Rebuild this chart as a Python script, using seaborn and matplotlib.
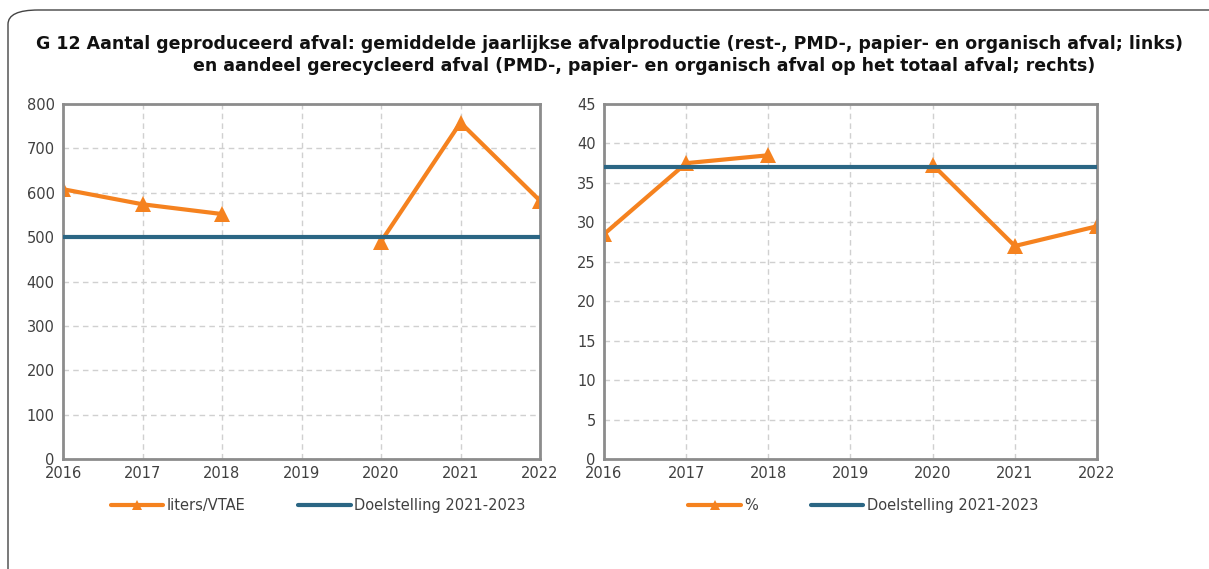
import numpy as np
import pandas as pd
import seaborn as sns
from matplotlib import pyplot as plt
from matplotlib.lines import Line2D
from matplotlib.patches import FancyBboxPatch

years = [2016, 2017, 2018, 2019, 2020, 2021, 2022]
liters = [608, 574, 552, np.nan, 490, 758, 582]
recycled = [28.5, 37.5, 38.5, np.nan, 37.3, 27.0, 29.5]
target_liters = 500
target_pct = 37
segment = [0, 0, 0, 1, 1, 1, 1]

ORANGE = "#f5821f"
BLUE = "#2b6684"
TXT = "#404040"

sns.set_theme(style="whitegrid")
plt.rcParams["font.family"] = ["DejaVu Sans"]

fig = plt.figure(figsize=(12.09, 5.69), dpi=100)

# rounded frame around the whole figure
frame = FancyBboxPatch((8 / 1209, -0.05), 1.05, 1 - 10 / 569 + 0.05,
                       boxstyle="round,pad=0,rounding_size=0.025",
                       transform=fig.transFigure, fill=False, edgecolor="#444444", linewidth=1.0)
fig.patches.append(frame)

fig.text(36 / 1209, 1 - 44 / 569,
         "G 12 Aantal geproduceerd afval: gemiddelde jaarlijkse afvalproductie (rest-, PMD-, papier- en organisch afval; links)",
         ha="left", va="center", fontsize=12.5, fontweight="bold", color="#111111")
fig.text(193 / 1209, 1 - 66 / 569,
         "en aandeel gerecycleerd afval (PMD-, papier- en organisch afval op het totaal afval; rechts)",
         ha="left", va="center", fontsize=12.5, fontweight="bold", color="#111111")


def panel(rect, values, target, ymax, step, label, leg_x):
    ax = fig.add_axes(rect)
    df = pd.DataFrame({"year": years, "value": values, "seg": segment})
    sns.lineplot(data=df, x="year", y="value", units="seg", estimator=None,
                 color=ORANGE, linewidth=3, marker="^", markersize=11,
                 markeredgewidth=0, ax=ax)
    ax.axhline(target, color=BLUE, linewidth=3, zorder=3)
    ax.set_xlim(years[0], years[-1])
    ax.set_ylim(0, ymax)
    ax.set_xticks(years)
    ax.set_yticks(np.arange(0, ymax + step, step))
    ax.set_xlabel("")
    ax.set_ylabel("")
    ax.set_facecolor("white")
    ax.grid(True, color="#d0d0d0", linestyle=(0, (4, 3)), linewidth=1)
    for s in ax.spines.values():
        s.set_visible(True)
        s.set_color("#8c8c8c")
        s.set_linewidth(2)
    ax.tick_params(axis="both", labelsize=10.5, colors=TXT, length=4, width=1.5,
                   color="#8c8c8c", pad=2)
    ax.tick_params(axis="x", pad=1)
    for t in ax.get_xticklabels() + ax.get_yticklabels():
        t.set_color(TXT)
    handles = [Line2D([], [], color=ORANGE, linewidth=3, marker="^", markersize=7, markeredgewidth=0),
               Line2D([], [], color=BLUE, linewidth=3)]
    ax.legend(handles, [label, "Doelstelling 2021-2023"], loc="upper center",
              bbox_to_anchor=(leg_x, -0.072), ncol=2, frameon=False, fontsize=10.5,
              handlelength=3.6, handletextpad=0.25, columnspacing=3.6, labelcolor=TXT)
    return ax


panel([63 / 1209, 1 - 459 / 569, 477 / 1209, 355 / 569], liters, target_liters, 800, 100, "liters/VTAE", 0.535)
panel([604 / 1209, 1 - 459 / 569, 493 / 1209, 355 / 569], recycled, target_pct, 45, 5, "%", 0.526)

fig.savefig("out.png", dpi=100)
